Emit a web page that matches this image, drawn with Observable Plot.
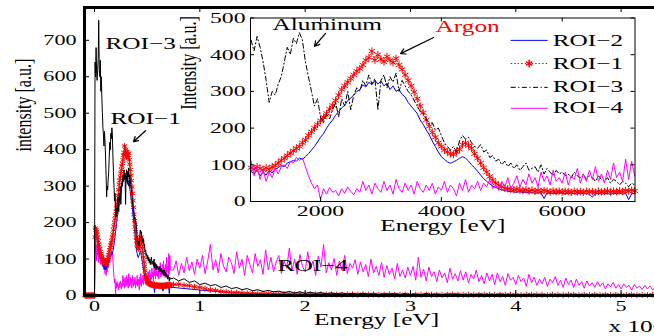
<!DOCTYPE html>
<html><head><meta charset="utf-8">
<script src="https://cdn.jsdelivr.net/npm/d3@7"></script>
<script src="https://cdn.jsdelivr.net/npm/@observablehq/plot@0.6"></script>
<style>
html,body{margin:0;padding:0;background:#fff;overflow:hidden;width:654px;height:336px;}
#wrap{position:relative;width:654px;height:336px;overflow:hidden;background:#fff;}
#main{position:absolute;left:0;top:0;width:700px;height:336px;}
#inset{position:absolute;left:160px;top:0;width:494px;height:250px;}
#wrap svg{max-width:none !important;}
</style></head><body><div id="wrap"><div id="main"></div><div id="inset"></div></div>
<script>
// ---- channel grids (eV) ----
const lowStart = -900, lowStep = 50;          // -900 .. 7200 eV
const tailStart = 7500;                         // tails up to 54500 eV
const roi4TailStep = 250, roi3TailStep = 500, roi1TailStep = 500, roi2TailStep = 2500;

// ---- ROI-3 (black) ----
const roi3Low = [0,0,0,0,0,0,0,0,0,0,0,0,0,0,0,0,0,0,0,
 640,600,680,610,590,620,650,755,620,600,645,560,600,540,500,460,
 440,410,450,420,380,330,270,300,290,320,
 340,380,420,400,445,430,460,440,380,340,
 300,260,280,230,215,240,225,250,270,230,
 280,260,300,250,290,310,300,330,315,345,
 320,335,250,330,345,310,340,325,350,300,
 330,315,300,290,275,260,245,240,225,210,
 215,195,200,180,160,150,140,150,135,165,
 180,170,175,160,150,145,155,135,140,120,
 125,110,115,100,110,95,105,90,100,85,
 95,105,85,90,95,80,100,75,90,80,
 70,85,75,80,70,75,65,80,70,65,
 75,60,70,65,55,70,60,55,65,50,
 60,55,45,55,50,40,50,45];
const roi3Tail = [48,40,46,36,40,30,34,27,30,22,
 26,19,22,16,19,13,16,11,14,10,
 12,8,11,7,10,6,9,6,8,5,
 7,5,7,4,6,4,6,4,5,3,
 5,4,5,3,5,3,4,2,5,3,
 4,2,4,3,4,2,3,2,4,3,
 3,2,4,2,3,2,3,1,3,2,
 3,2,3,1,3,2,3,2,2,1,
 3,2,2,1,3,2,2,1,2,1,
 2,1,2,1,2];

// ---- ROI-1 (red, stars) ----
const roi1Low = [0,0,0,0,0,0,0,0,0,0,0,0,0,0,0,0,0,0,0,
 160,185,180,175,168,160,150,140,135,128,120,115,110,105,100,96,
 92,88,95,90,86,92,88,95,98,105,
 112,118,125,132,138,145,150,160,168,180,
 190,200,210,220,230,240,252,262,275,290,
 305,315,325,335,345,355,362,372,385,392,
 410,385,400,388,380,395,385,378,390,372,
 360,345,330,315,298,280,260,242,222,205,
 188,175,160,150,140,135,130,128,135,142,
 155,160,152,145,130,118,105,92,80,68,
 58,50,44,40,36,35,33,32,34,31,
 30,32,29,31,28,30,27,30,28,26,
 29,27,28,26,28,27,25,28,26,27,
 25,28,26,27,25,28,26,27,29,26,
 28,27,29,27,30,28,31,29];
const roi1Tail = [30,31,28,27,24,22,19,16,14,11,
 10,8,8,7,6,6,5,5,5,4,
 4,4,4,3,4,3,3,3,3,3,
 3,3,2,3,3,2,3,2,3,2,
 2,3,2,2,3,2,2,2,3,2,
 2,2,2,3,2,2,2,2,2,2,
 2,2,2,2,2,2,1,2,2,2,
 2,1,2,2,1,2,2,1,2,1,
 2,1,2,1,2,1,1,2,1,1,
 1,2,1,1,1];

// ---- ROI-2 (blue) ----
const roi2Low = [0,0,0,0,0,0,0,0,0,0,0,0,0,0,0,0,0,0,0,
 150,170,165,160,150,145,135,128,120,115,108,100,95,90,86,80,
 82,75,85,70,80,72,84,78,88,92,
 98,95,105,108,112,110,118,115,122,130,
 140,150,162,175,185,200,212,222,235,245,
 255,262,275,282,290,300,305,318,312,325,
 318,330,320,328,315,322,305,315,300,305,
 292,285,270,260,250,240,222,210,195,182,
 165,150,135,122,115,108,104,108,112,118,
 122,118,110,100,92,82,72,62,55,48,
 42,38,35,32,30,28,27,26,25,27,
 24,26,23,25,22,24,23,8,24,22,
 23,21,24,22,20,23,21,22,20,23,
 21,22,20,12,21,23,20,22,21,20,
 22,21,23,20,22,5,21,22];
const roi2Tail = [22,15,9,5,4,3,3,2,2,2,2,2,1,1,1,1,1,1,1];

// ---- ROI-4 (magenta) ----
const roi4Low = [0,0,0,0,0,0,0,0,0,0,0,0,0,0,0,0,0,0,0,
 150,120,135,95,140,110,125,90,130,100,115,85,120,95,105,80,
 110,70,95,60,85,55,80,65,90,75,
 95,100,90,110,105,120,112,118,95,70,
 50,35,45,5,35,20,38,25,30,15,
 35,22,40,28,18,35,25,55,30,45,
 20,50,35,25,55,30,45,20,60,35,
 25,50,30,45,20,55,35,25,45,30,
 50,20,40,30,55,25,45,35,15,50,
 30,60,25,45,35,55,30,50,40,60,
 35,45,30,55,40,65,35,50,70,40,
 60,45,75,50,65,40,80,55,70,45,
 85,55,65,50,80,45,70,60,90,50,
 75,55,85,60,95,55,75,50,85,60,
 105,65,80,55,115,60,110,70];
const roi4Tail = [70,95,55,88,62,105,68,92,58,100,
 75,110,60,95,140,70,98,62,115,80,
 65,105,90,60,120,75,100,55,110,85,
 62,115,80,98,58,125,70,105,65,92,
 110,60,95,75,130,68,100,58,112,80,
 65,120,72,95,55,108,78,140,62,90,
 70,102,55,95,68,110,60,88,75,98,
 58,92,65,85,52,100,62,80,55,90,
 50,82,58,75,45,88,52,70,48,78,
 55,80,42,105,50,72,40,78,52,65,
 38,70,48,62,35,75,45,60,40,68,
 42,65,35,58,45,70,38,55,32,62,
 40,58,30,62,38,52,28,60,42,50,
 30,55,38,48,25,58,35,50,28,45,
 32,50,25,45,35,52,28,42,22,48,
 30,42,22,45,28,38,20,40,26,35,
 22,38,25,35,18,32,24,36,20,30,
 18,32,22,28,15,30,20,26,16,28,
 18,26,15,24,20,27,14,22,18];

// ---- ticks ----
const mainXTicks = [0, 10000, 20000, 30000, 40000, 50000];
const mainYTicks = [0, 100, 200, 300, 400, 500, 600, 700];
const insetXTicks = [2000, 4000, 6000];
const insetYTicks = [0, 100, 200, 300, 400, 500];

// ---- annotations (data coordinates) ----
const mainNotes = [
  {label: "ROI\u22123", e: 1045, v: 691},
  {label: "ROI\u22121", e: 1520, v: 485},
  {label: "ROI\u22124", e: 17380, v: 82}
];
const mainArrows = [{e1: 4843, v1: 452, e2: 3704, v2: 422}];
const insetNotes = [
  {label: "Aluminum", e: 1205, v: 482, color: "black"},
  {label: "Argon", e: 3905, v: 477, color: "#ff0000"}
];
const insetArrows = [
  {e1: 2083, v1: 458, e2: 1901, v2: 423},
  {e1: 3872, v1: 447, e2: 3325, v2: 403}
];
const legendNames = ["ROI\u22122", "ROI\u22121", "ROI\u22123", "ROI\u22124"];
const legendRowV = [439, 376, 311, 254];
const legendE = {x1: 5147, x2: 5760, mark: 5453, text: 5842};

// ---- build series ----
function build(low, tail, tStep) {
  const rows = low.map((v, i) => ({e: lowStart + i * lowStep, v}));
  tail.forEach((v, i) => rows.push({e: tailStart + i * tStep, v}));
  return rows;
}
const s3 = build(roi3Low, roi3Tail, roi3TailStep);
const s1 = build(roi1Low, roi1Tail, roi1TailStep);
const s2 = build(roi2Low, roi2Tail, roi2TailStep);
const s4 = build(roi4Low, roi4Tail, roi4TailStep);

const RED = "#ff0000", BLUE = "#0000ff", MAG = "#ff00ff";
const FONT = "Liberation Serif";

// ---- main plot ----
const mW = 700, mH = 336, mL = 84, mR = 32, mT = 7, mB = 41;
const fW = mW - mL - mR, fH = mH - mT - mB;
const mainSvg = Plot.plot({
  width: mW, height: mH,
  marginLeft: mL, marginRight: mR, marginTop: mT, marginBottom: mB,
  style: {fontFamily: FONT, background: "transparent", overflow: "visible", maxWidth: "none"},
  x: {domain: [-950, 54500]},
  y: {domain: [0, 790]},
  marks: [
    Plot.line(s4, {x: "e", y: "v", stroke: MAG, strokeWidth: 1}),
    Plot.line(s2, {x: "e", y: "v", stroke: BLUE, strokeWidth: 1}),
    Plot.line(s1, {x: "e", y: "v", stroke: RED, strokeWidth: 1}),
    Plot.dot(s1, {x: "e", y: "v", symbol: "asterisk", r: 2.8, stroke: RED, fill: "none", strokeWidth: 1}),
    Plot.line(s3, {x: "e", y: "v", stroke: "black", strokeWidth: 1}),
    Plot.ruleX(mainXTicks, {x: d => d, insetTop: fH - 5, stroke: "black"}),
    Plot.ruleX(mainXTicks, {x: d => d, insetBottom: fH - 5, stroke: "black"}),
    Plot.ruleY(mainYTicks, {y: d => d, insetRight: fW - 5, stroke: "black"}),
    Plot.axisX(mainXTicks, {tickSize: 0, tickPadding: 5.5, tickFormat: d => String(d / 1e4), fontSize: 14, label: null}),
    Plot.axisY(mainYTicks, {tickSize: 0, tickPadding: 8, tickFormat: d => String(d), fontSize: 14, label: null}),
    Plot.frame({stroke: "black", strokeWidth: 3}),
    Plot.text(["Energy [eV]"], {text: d => d, frameAnchor: "bottom", dy: 29, fontSize: 16}),
    Plot.text(["intensity [a.u.]"], {text: d => d, frameAnchor: "left", dx: -61, rotate: -90, fontSize: 16}),
    Plot.text(["x 10\u2074"], {text: d => d, frameAnchor: "bottom-right", dx: -60, dy: 36, textAnchor: "start", fontSize: 16}),
    Plot.text(mainNotes, {x: "e", y: "v", text: "label", textAnchor: "start", fontSize: 16, fill: "black"}),
    Plot.arrow(mainArrows, {x1: "e1", y1: "v1", x2: "e2", y2: "v2", stroke: "black", strokeWidth: 1.3, headLength: 6})
  ]
});

// ---- inset plot ----
const inDom = [841, 7205];
const inside = d => d.e >= inDom[0] && d.e <= inDom[1];
const i1 = s1.filter(inside), i2 = s2.filter(inside), i3 = s3.filter(inside), i4 = s4.filter(inside);
const iW = 494, iH = 250, iL = 90, iR = 19.5, iT = 17.5, iB = 49;
const ifW = iW - iL - iR, ifH = iH - iT - iB;
const legendRows = legendNames.map((name, k) => ({name, v: legendRowV[k]}));
const insetSvg = Plot.plot({
  width: iW, height: iH,
  marginLeft: iL, marginRight: iR, marginTop: iT, marginBottom: iB,
  style: {fontFamily: FONT, background: "transparent", overflow: "visible", maxWidth: "none"},
  x: {domain: inDom},
  y: {domain: [0, 500]},
  marks: [
    Plot.frame({fill: "white", stroke: "none"}),
    Plot.line(i2, {x: "e", y: "v", stroke: BLUE, strokeWidth: 1}),
    Plot.line(i1, {x: "e", y: "v", stroke: RED, strokeWidth: 1, strokeDasharray: "1.5,2"}),
    Plot.dot(i1, {x: "e", y: "v", symbol: "asterisk", r: 3.5, stroke: RED, fill: "none", strokeWidth: 1}),
    Plot.line(i3, {x: "e", y: "v", stroke: "black", strokeWidth: 1, strokeDasharray: "5,2.5,1.2,2.5"}),
    Plot.line(i4, {x: "e", y: "v", stroke: MAG, strokeWidth: 1}),
    Plot.ruleX(insetXTicks, {x: d => d, insetTop: ifH - 4, stroke: "black"}),
    Plot.ruleX(insetXTicks, {x: d => d, insetBottom: ifH - 4, stroke: "black"}),
    Plot.ruleY(insetYTicks, {y: d => d, insetRight: ifW - 4, stroke: "black"}),
    Plot.ruleY(insetYTicks, {y: d => d, insetLeft: ifW - 4, stroke: "black"}),
    Plot.axisX(insetXTicks, {tickSize: 0, tickPadding: 3.5, tickFormat: d => String(d), fontSize: 15, label: null}),
    Plot.axisY(insetYTicks, {tickSize: 0, tickPadding: 5, tickFormat: d => String(d), fontSize: 15, label: null}),
    Plot.frame({stroke: "black", strokeWidth: 1}),
    Plot.text(["Energy [eV]"], {text: d => d, frameAnchor: "bottom", dy: 29.5, fontSize: 16}),
    Plot.text(["Intensity [a.u.]"], {text: d => d, frameAnchor: "left", dx: -62, rotate: -90, fontSize: 16}),
    Plot.text(insetNotes, {x: "e", y: "v", text: "label", textAnchor: "start", fontSize: 16, fill: "color"}),
    Plot.arrow(insetArrows, {x1: "e1", y1: "v1", x2: "e2", y2: "v2", stroke: "black", strokeWidth: 1.2, headLength: 7}),
    // legend
    Plot.link(legendRows.filter(d => d.name === "ROI\u22122"), {x1: () => legendE.x1, x2: () => legendE.x2, y1: "v", y2: "v", stroke: BLUE, strokeWidth: 1}),
    Plot.link(legendRows.filter(d => d.name === "ROI\u22121"), {x1: () => legendE.x1, x2: () => legendE.x2, y1: "v", y2: "v", stroke: RED, strokeWidth: 1, strokeDasharray: "1.5,2"}),
    Plot.dot(legendRows.filter(d => d.name === "ROI\u22121"), {x: () => legendE.mark, y: "v", symbol: "asterisk", r: 3.5, stroke: RED, fill: "none"}),
    Plot.link(legendRows.filter(d => d.name === "ROI\u22123"), {x1: () => legendE.x1, x2: () => legendE.x2, y1: "v", y2: "v", stroke: "black", strokeWidth: 1, strokeDasharray: "5,2.5,1.2,2.5"}),
    Plot.link(legendRows.filter(d => d.name === "ROI\u22124"), {x1: () => legendE.x1, x2: () => legendE.x2, y1: "v", y2: "v", stroke: MAG, strokeWidth: 1}),
    Plot.text(legendRows, {x: () => legendE.text, y: "v", text: "name", textAnchor: "start", fontSize: 16})
  ]
});

// The reference figure's lettering is horizontally stretched; reproduce that.
function stretchText(svg, sx, sr) {
  svg.querySelectorAll("text").forEach(t => {
    let tr = t.getAttribute("transform") || "";
    if (!tr) {
      const x = +(t.getAttribute("x") || 0), y = +(t.getAttribute("y") || 0);
      tr = `translate(${x},${y})`;
      t.removeAttribute("x"); t.removeAttribute("y");
    }
    tr += /rotate/.test(tr) ? ` scale(1,${sr})` : ` scale(${sx},1)`;
    t.setAttribute("transform", tr);
  });
}
stretchText(mainSvg, 1.58, 1.45);
stretchText(insetSvg, 1.58, 1.45);

document.getElementById("main").appendChild(mainSvg);
document.getElementById("inset").appendChild(insetSvg);
</script>
</body></html>
